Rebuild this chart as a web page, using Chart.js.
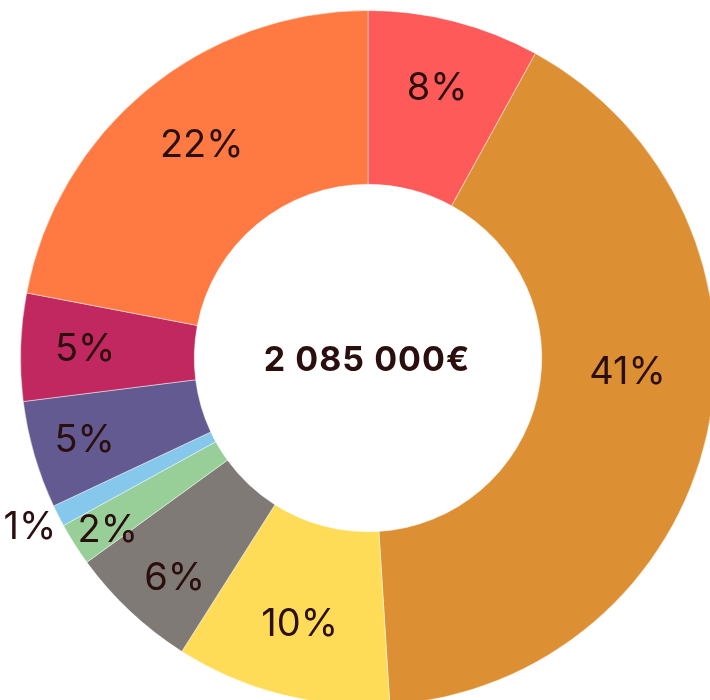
<!DOCTYPE html>
<html>
<head>
<meta charset="utf-8">
<script src="https://cdn.jsdelivr.net/npm/chart.js@4.4.1/dist/chart.umd.min.js"></script>
<style>
  html, body { margin: 0; padding: 0; background: #fff; overflow: hidden; }
  #wrap { position: relative; width: 710px; height: 700px; overflow: hidden; }
  canvas { position: absolute; left: 0; top: 0; }
</style>
</head>
<body>
<div id="wrap"><canvas id="budget-chart" width="736" height="716"></canvas></div>
<script>
// Slice data, clockwise from the top
const shares = [8, 41, 10, 6, 2, 1, 5, 5, 22];
const shareLabels = ["8%", "41%", "10%", "6%", "2%", "1%", "5%", "5%", "22%"];
const totalLabel = "2 085 000€";

const colors = ["#FF5A5A", "#DD9033", "#FFDC57", "#7F7A75", "#98CF98", "#86C8EC", "#625A91", "#C0285F", "#FF7A42"];

// Label placement (distance from centre in px, angle nudge in degrees)
const labelRadius = [278, 260, 275, 293, 312, 378, 295, 283, 270];
const labelNudge = [0, -9.3, 0, -1.9, -1.1, 0.4, 0, 0, 1.6];

const textColor = "#2B0E0E";

// Draws the percentage labels and the total in the hole
const sliceLabels = {
  id: "sliceLabels",
  afterDatasetsDraw(chart) {
    const ctx = chart.ctx;
    const meta = chart.getDatasetMeta(0);
    ctx.save();
    ctx.fillStyle = textColor;
    ctx.textAlign = "center";
    ctx.textBaseline = "middle";
    ctx.font = "400 38px Inter";
    meta.data.forEach(function (arc, i) {
      const p = arc.getProps(["startAngle", "endAngle", "x", "y"], true);
      const a = (p.startAngle + p.endAngle) / 2 + labelNudge[i] * Math.PI / 180;
      ctx.fillText(shareLabels[i], p.x + Math.cos(a) * labelRadius[i], p.y + Math.sin(a) * labelRadius[i]);
    });
    const c = meta.data[0];
    ctx.font = "700 34px Inter";
    ctx.letterSpacing = "1px";
    ctx.fillText(totalLabel, c.x - 1, c.y + 3);
    ctx.restore();
  },
};

const configDoughnut = {
  type: "doughnut",
  data: {
    labels: shareLabels,
    datasets: [
      {
        data: shares,
        backgroundColor: colors,
        borderColor: "rgba(255,255,255,0.45)",
        borderWidth: 1,
      },
    ],
  },
  options: {
    responsive: false,
    animation: false,
    cutout: "50%",
    layout: { padding: 10 },
    plugins: {
      legend: false,
      tooltip: { enabled: false },
    },
  },
  plugins: [sliceLabels],
};

let budget_chart = new Chart(document.getElementById("budget-chart"), configDoughnut);
</script>
</body>
</html>
